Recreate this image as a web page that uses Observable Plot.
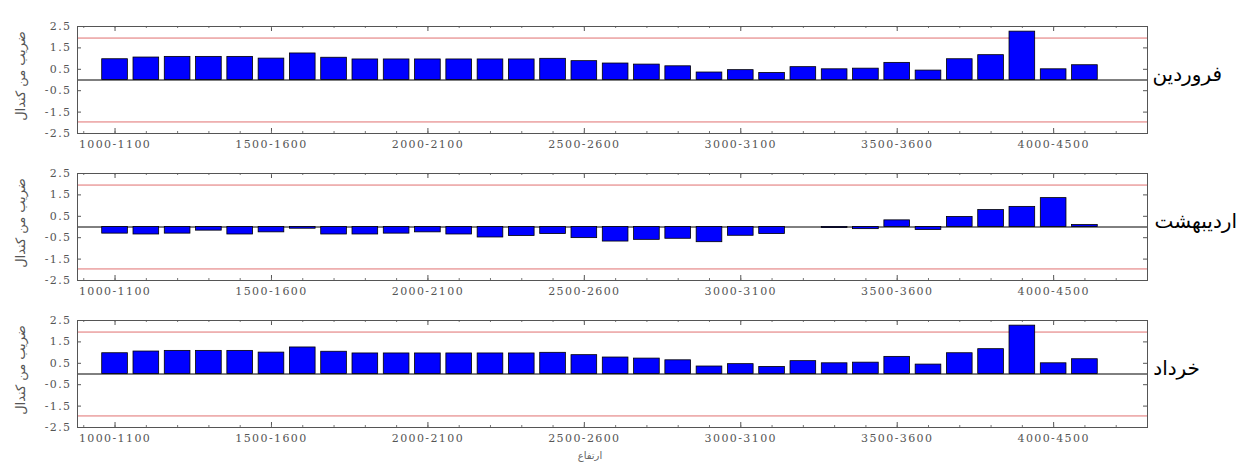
<!DOCTYPE html>
<html>
<head>
<meta charset="utf-8">
<script src="https://cdn.jsdelivr.net/npm/d3@7"></script>
<script src="https://cdn.jsdelivr.net/npm/@observablehq/plot@0.6"></script>
<style>
  body { margin: 0; background: #fff; }
  #wrap { position: relative; width: 1237px; height: 462px; overflow: hidden; background: #fff; }
  .panel { position: absolute; left: 0; }
  .panel svg { background: transparent !important; overflow: visible; }
  .panel svg text { letter-spacing: 1.4px; }
  .month { position: absolute; font-family: "DejaVu Sans", sans-serif; font-size: 20px; line-height: 24px; color: #000; direction: rtl; white-space: nowrap; }
  .ylab { position: absolute; font-family: "DejaVu Sans", sans-serif; font-size: 13px; color: #555; direction: rtl; white-space: nowrap; transform: translate(-50%, -50%) rotate(-90deg); }
  .xlab { position: absolute; font-family: "DejaVu Sans", sans-serif; font-size: 10px; color: #666; direction: rtl; white-space: nowrap; transform: translate(-50%, -50%); }
</style>
</head>
<body>
<div id="wrap"></div>
<script>
const categories = ["1000-1100","1100-1200","1200-1300","1300-1400","1400-1500",
  "1500-1600","1600-1700","1700-1800","1800-1900","1900-2000",
  "2000-2100","2100-2200","2200-2300","2300-2400","2400-2500",
  "2500-2600","2600-2700","2700-2800","2800-2900","2900-3000",
  "3000-3100","3100-3200","3200-3300","3300-3400","3400-3500",
  "3500-3600","3600-3700","3700-3800","3800-3900","3900-4000",
  "4000-4500","4500-5000"];

const monthNames = ["فروردین", "اردیبهشت", "خرداد"];

const farvardin = [0.97,1.05,1.08,1.08,1.08,1.00,1.24,1.04,0.96,0.96,
  0.96,0.96,0.96,0.96,0.99,0.88,0.77,0.72,0.64,0.35,
  0.46,0.33,0.60,0.50,0.53,0.80,0.44,0.97,1.16,2.26,
  0.50,0.69];

const ordibehesht = [-0.31,-0.35,-0.31,-0.17,-0.35,-0.25,-0.08,-0.35,-0.35,-0.31,
  -0.25,-0.35,-0.49,-0.42,-0.33,-0.52,-0.68,-0.60,-0.55,-0.71,
  -0.41,-0.33,0.00,-0.05,-0.10,0.31,-0.14,0.47,0.79,0.94,
  1.35,0.09];

const khordad = [0.97,1.05,1.08,1.08,1.08,1.00,1.24,1.04,0.96,0.96,
  0.96,0.96,0.96,0.96,0.99,0.88,0.77,0.72,0.64,0.35,
  0.46,0.33,0.60,0.50,0.53,0.80,0.44,0.97,1.16,2.26,
  0.50,0.69];

const yTicks = [2.5, 1.5, 0.5, -0.5, -1.5, -2.5];
const labelIdx = [0, 5, 10, 15, 20, 25, 30];
const minorIdx = [-1,0,1,2,3,4,5,6,7,8,9,10,11,12,13,14,15,16,17,18,19,20,21,22,23,24,25,26,27,28,29,30,31,32,33];
const thresholds = [1.96, -1.96];
const yLabel = "ضریب من کندال";
const xLabel = "ارتفاع";

const series = [farvardin, ordibehesht, khordad];
const panelTops = [0, 147, 294];
const wrap = document.getElementById("wrap");

const W = 1237, ML = 77, MR = 90, MT = 26, MB = 29, H = 162;
const frameW = W - ML - MR, frameH = H - MT - MB;

function panel(values) {
  const data = values.map((v, i) => ({i, v, cat: categories[i]}));
  return Plot.plot({
    width: W,
    height: H,
    marginLeft: ML,
    marginRight: MR,
    marginTop: MT,
    marginBottom: MB,
    x: {type: "linear", domain: [-1.2, 33]},
    y: {domain: [-2.5, 2.5]},
    style: {fontFamily: "DejaVu Serif", fontSize: "11px", color: "#555", background: "transparent"},
    marks: [
      Plot.ruleY(thresholds, {stroke: "#e07070", strokeWidth: 1}),
      Plot.ruleY([0], {stroke: "#000", strokeWidth: 1}),
      Plot.rectY(data, {x1: d => d.i - 0.41, x2: d => d.i + 0.41, y: "v", fill: "#0000ff", stroke: "#000", strokeWidth: 0.8}),
      // inward tick marks (left / right)
      Plot.ruleY(yTicks, {stroke: "#555", insetRight: frameW - 4}),
      Plot.ruleY(yTicks, {stroke: "#555", insetLeft: frameW - 4}),
      // major x ticks (bottom / top)
      Plot.ruleX(labelIdx, {stroke: "#555", insetTop: frameH - 5}),
      Plot.ruleX(labelIdx, {stroke: "#555", insetBottom: frameH - 5}),
      // minor x ticks
      Plot.ruleX(minorIdx, {stroke: "#777", insetTop: frameH - 2}),
      Plot.ruleX(minorIdx, {stroke: "#777", insetBottom: frameH - 2}),
      Plot.axisY({ticks: yTicks, tickSize: 0, tickPadding: 6, tickFormat: d => d.toFixed(1), label: null}),
      Plot.axisX({anchor: "bottom", ticks: labelIdx, tickSize: 0, tickPadding: 7, tickFormat: i => categories[i], label: null}),
      Plot.frame({stroke: "#555"})
    ]
  });
}

series.forEach((vals, k) => {
  const div = document.createElement("div");
  div.className = "panel";
  div.style.top = panelTops[k] + "px";
  div.appendChild(panel(vals));
  wrap.appendChild(div);

  const m = document.createElement("div");
  m.className = "month";
  m.textContent = monthNames[k];
  m.style.right = (k === 1 ? 0 : (k === 0 ? 15 : 37)) + "px";
  m.style.top = (panelTops[k] + 62) + "px";
  wrap.appendChild(m);

  const yl = document.createElement("div");
  yl.className = "ylab";
  yl.textContent = yLabel;
  yl.style.left = "20px";
  yl.style.top = (panelTops[k] + 76) + "px";
  wrap.appendChild(yl);
});

const xl = document.createElement("div");
xl.className = "xlab";
xl.textContent = xLabel;
xl.style.left = "590px";
xl.style.top = "455px";
wrap.appendChild(xl);
</script>
</body>
</html>
